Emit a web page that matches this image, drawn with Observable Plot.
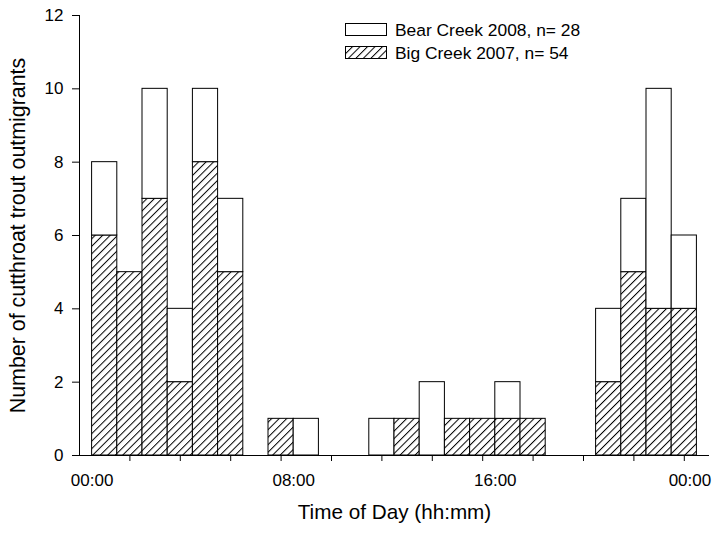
<!DOCTYPE html>
<html>
<head>
<meta charset="utf-8">
<script src="https://cdn.jsdelivr.net/npm/d3@7"></script>
<script src="https://cdn.jsdelivr.net/npm/@observablehq/plot@0.6"></script>
<style>
  body { margin: 0; background: #fff; font-family: "Liberation Sans", Arial, sans-serif; }
  #wrap { position: relative; width: 712px; height: 533px; }
  .lg-sw { position: absolute; left: 345px; }
  .lg-tx { position: absolute; left: 395px; font-size: 17.4px; line-height: 17px; color: #000; white-space: nowrap; }
</style>
</head>
<body>
<div id="wrap"></div>
<script>
// ---- data (hour-of-day bins, counts of outmigrants) ----
const hours = [0,1,2,3,4,5,6,7,8,9,10,11,12,13,14,15,16,17,18,19,20,21,22,23];
const bigCreek2007  = [6,5,7,2,8,5,0,1,0,0,0,0,1,0,1,1,1,1,0,0,2,5,4,4];
const bearCreek2008 = [2,0,3,2,2,2,0,0,1,0,0,1,0,2,0,0,1,0,0,0,2,2,6,2];
const seriesNames = ["Big Creek 2007, n= 54", "Bear Creek 2008, n= 28"];
const xLabelHours = [0, 8, 16];
const xTickLabels = ["00:00", "08:00", "16:00"];
const xLastLabelHour = [24];
const xLastLabel = "00:00";
const xMinorTicks = [1.5, 3.5, 5.5, 7.5, 9.5, 11.5, 13.5, 15.5, 17.5, 19.5, 21.5, 23.5];
const yTicks = [0, 2, 4, 6, 8, 10, 12];
const xDomain = [-0.5, 24.5];
const yDomain = [0, 12];
const xTitle = "Time of Day (hh:mm)";
const yTitle = "Number of cutthroat trout outmigrants";

// ---- table for Plot ----
const rows = [];
hours.forEach((h, i) => {
  rows.push({hour: h, hourEnd: h + 1, series: seriesNames[0], count: bigCreek2007[i]});
  rows.push({hour: h, hourEnd: h + 1, series: seriesNames[1], count: bearCreek2008[i]});
});
const table = rows.filter(d => d.count > 0);

const plot = Plot.plot({
  width: 712,
  height: 533,
  marginTop: 15,
  marginBottom: 78,
  marginLeft: 79,
  marginRight: 3,
  style: {fontFamily: "Liberation Sans, Arial, sans-serif", fontSize: "17px", background: "white", color: "black"},
  x: {domain: xDomain},
  y: {domain: yDomain},
  color: {domain: seriesNames, range: ["url(#hatch)", "white"]},
  marks: [
    Plot.rectY(table, {x1: "hour", x2: "hourEnd", y: "count", fill: "series", stroke: "black", strokeWidth: 1}),
    Plot.ruleY([yDomain[0]], {stroke: "black"}),
    Plot.ruleX([xDomain[0]], {stroke: "black"}),
    Plot.axisY({ticks: yTicks, tickSize: 7, tickPadding: 9, label: null, fontSize: 17}),
    Plot.axisX({ticks: xMinorTicks, tickSize: 6, tickFormat: () => "", label: null}),
    Plot.axisX({ticks: xLabelHours, tickSize: 0, tickPadding: 18, tickFormat: d => xTickLabels[xLabelHours.indexOf(d)], label: null, fontSize: 17}),
    Plot.axisX({ticks: xLastLabelHour, tickSize: 0, tickPadding: 18, tickFormat: () => xLastLabel, label: null, fontSize: 17, dx: -7}),
    Plot.text([xTitle], {frameAnchor: "bottom", dy: 63, fontSize: 20.7, fill: "black"}),
    Plot.text([yTitle], {frameAnchor: "left", textAnchor: "middle", dx: -61, rotate: -90, fontSize: 21.4, fill: "black"})
  ]
});

const ns = "http://www.w3.org/2000/svg";
const hatchDef = (id) => `<pattern id="${id}" patternUnits="userSpaceOnUse" width="5.3" height="5.3" patternTransform="rotate(45)"><rect width="5.3" height="5.3" fill="white"/><line x1="0.5" y1="0" x2="0.5" y2="5.3" stroke="black" stroke-width="1"/></pattern>`;
const defs = document.createElementNS(ns, "defs");
defs.innerHTML = hatchDef("hatch");
plot.insertBefore(defs, plot.firstChild);

const wrap = document.getElementById("wrap");
wrap.appendChild(plot);

// ---- legend (Bear on top, Big below) ----
const legendItems = [
  {name: seriesNames[1], fill: "white", top: 23, textTop: 22},
  {name: seriesNames[0], fill: "url(#hatchLg)", top: 46, textTop: 45}
];
legendItems.forEach(item => {
  const sw = document.createElementNS(ns, "svg");
  sw.setAttribute("class", "lg-sw");
  sw.setAttribute("width", "42");
  sw.setAttribute("height", "14");
  sw.style.top = item.top + "px";
  sw.innerHTML = `<defs>${hatchDef("hatchLg")}</defs><rect x="0.5" y="0.5" width="41" height="12" fill="${item.fill}" stroke="black" stroke-width="1"/>`;
  wrap.appendChild(sw);
  const tx = document.createElement("div");
  tx.className = "lg-tx";
  tx.style.top = item.textTop + "px";
  tx.textContent = item.name;
  wrap.appendChild(tx);
});
</script>
</body>
</html>
